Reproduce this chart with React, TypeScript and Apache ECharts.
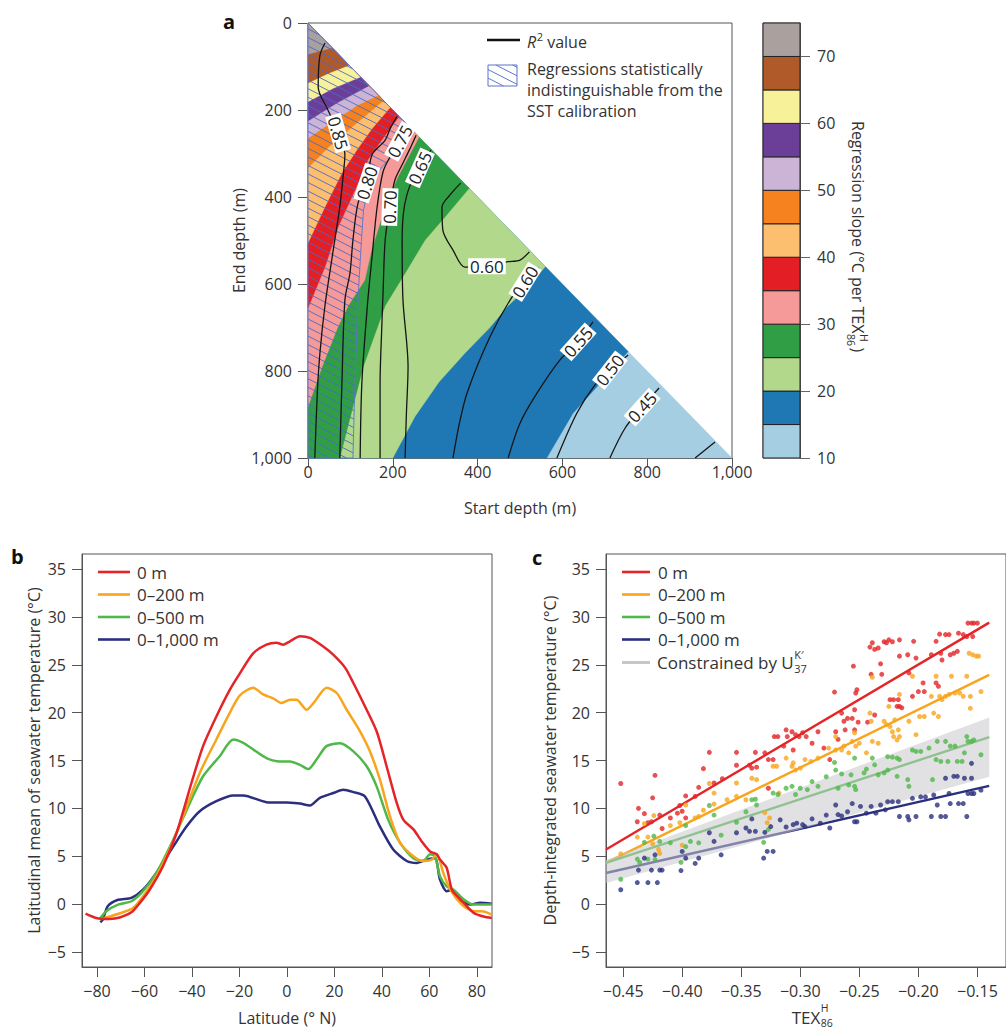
import React, { useEffect, useRef } from 'react';
import * as echarts from 'echarts';

const FONT = "'Open Sans', 'Noto Sans', sans-serif";
const INK = '#333';
const AXIS = '#555';

// ---------------- Panel a: regression slope map ----------------
const depthTicks = [0, 200, 400, 600, 800, 1000];
const slopeLevels = [10, 15, 20, 25, 30, 35, 40, 45, 50, 55, 60, 65, 70, 75];
const slopeTicks = [10, 20, 30, 40, 50, 60, 70];
const slopeColors = ['#a6cee3', '#1f78b4', '#b2d98b', '#2f9e44', '#f59a98', '#e31e25', '#fcbe6f', '#f5821f', '#cbb4d6', '#6b3f98', '#f7f29a', '#b05a2a', '#aaa19f'];

// boundary of each slope level: [start depth, end depth], from the left/bottom edge to the diagonal
const boundary15 = [[563, 1000], [625, 897], [681, 837], [755, 755]];
const boundary20 = [[200, 1000], [252, 905], [309, 825], [370, 759], [429, 700], [469, 653], [515, 610], [560, 560]];
const boundary25 = [[75, 1000], [130, 791], [182, 650], [229, 575], [276, 499], [323, 446], [380, 380]];
const boundary30 = [[0, 883], [33, 791], [70, 700], [95, 650], [134, 591], [150, 522], [182, 423], [212, 354], [262, 262]];
const boundary35 = [[0, 655], [40, 561], [71, 469], [111, 384], [141, 315], [174, 269], [215, 215]];
const boundary40 = [[0, 506], [40, 423], [80, 345], [118, 288], [151, 243], [194, 194]];
const boundary45 = [[0, 333], [50, 284], [105, 238], [153, 199], [178, 178]];
const boundary50 = [[0, 265], [60, 225], [115, 190], [166, 166]];
const boundary55 = [[0, 225], [70, 183], [144, 144]];
const boundary60 = [[0, 181], [60, 150], [124, 124]];
const boundary65 = [[0, 138], [50, 115], [97, 97]];
const boundary70 = [[0, 72], [57, 57]];
const slopeBoundaries = [boundary15, boundary20, boundary25, boundary30, boundary35, boundary40, boundary45, boundary50, boundary55, boundary60, boundary65, boundary70];

// right edge of the hatched region (indistinguishable from SST calibration)
const hatchEdge = [[106, 1000], [110, 850], [115, 700], [120, 600], [126, 500], [131, 430], [145, 370], [175, 330], [205, 300], [225, 270], [236, 236]];

// R^2 contours
const r2c85 = [[40, 46], [28, 75], [24, 147], [47, 200], [71, 253], [87, 303], [82, 360], [75, 423], [57, 538], [40, 650], [28, 760], [22, 850], [16, 1000]];
const r2c80 = [[210, 215], [195, 240], [182, 269], [151, 303], [139, 368], [118, 414], [106, 499], [99, 575], [87, 637], [80, 828], [75, 1000]];
const r2c75 = [[238, 242], [217, 272], [195, 305], [177, 342], [163, 423], [151, 538], [140, 650], [127, 828], [123, 1000]];
const r2c70 = [[255, 258], [240, 290], [222, 326], [205, 361], [193, 423], [182, 499], [177, 620], [174, 700], [170, 828], [170, 1000]];
const r2c65 = [[290, 292], [264, 333], [240, 375], [226, 430], [222, 499], [224, 637], [236, 791], [232, 900], [229, 1000]];
const r2c60a = [[360, 368], [335, 395], [316, 423], [318, 476], [342, 522], [370, 561], [422, 559], [469, 549], [500, 545], [522, 526]];
const r2c60b = [[545, 563], [512, 595], [481, 630], [429, 722], [375, 851], [355, 930], [342, 1000]];
const r2c55 = [[672, 687], [637, 733], [594, 775], [540, 851], [500, 920], [472, 1000]];
const r2c50 = [[755, 763], [712, 798], [677, 832], [634, 897], [587, 1000]];
const r2c45 = [[828, 839], [788, 883], [748, 931], [712, 1000]];
const r2c40 = [[960, 963], [913, 1000]];
const r2Contours = [r2c85, r2c80, r2c75, r2c70, r2c65, r2c60a, r2c60b, r2c55, r2c50, r2c45, r2c40];
const r2LabelText = ['0.85', '0.80', '0.75', '0.70', '0.65', '0.60', '0.60', '0.55', '0.50', '0.45'];
const r2LabelPos = [[71, 253], [139, 368], [217, 272], [193, 423], [264, 333], [422, 559], [512, 595], [637, 733], [712, 798], [788, 883]];
const r2LabelAngle = [-74, 72, 62, 88, 66, 0, 58, 48, 52, 48];

// ---------------- Panel b: latitudinal means ----------------
const latitudeTicks = [-80, -60, -40, -20, 0, 20, 40, 60, 80];
const tempTicks = [-5, 0, 5, 10, 15, 20, 25, 30, 35];
const depthNames = ['0 m', '0–200 m', '0–500 m', '0–1,000 m'];
const depthColors = ['#e42427', '#f8a51d', '#4fb848', '#2b2f7d'];

const latMean0m = [[-84.8, -1.0], [-80.3, -1.45], [-74.7, -1.55], [-70.4, -1.4], [-65.5, -0.86], [-62, 0.1], [-57.8, 1.5], [-52.2, 3.95], [-46.5, 7.4], [-40.2, 12.65], [-35.3, 16.5], [-29.7, 19.6], [-24, 22.4], [-19.8, 24.1], [-14.2, 26.2], [-8.6, 27.1], [-4.4, 27.3], [-1.5, 27.1], [1.3, 27.45], [5.5, 27.97], [9.7, 27.8], [15.3, 26.9], [19.5, 26.05], [24.5, 24.7], [28, 23.1], [32.2, 21], [37.8, 18.05], [42, 14.4], [46.3, 10.55], [49.1, 8.8], [53.3, 7.8], [56.8, 6.55], [60.3, 5.5], [63.1, 5.2], [64.5, 4.65], [67.3, 3.8], [69.5, 1.5], [73, 0.5], [78.6, -0.9], [82.8, -1.3], [86.3, -1.45]];
const latMean200m = [[-78.9, -1.6], [-74.7, -1.3], [-69, -0.85], [-64.8, -0.4], [-60.6, 0.8], [-55, 2.9], [-49.4, 5.7], [-43.7, 9.2], [-36.7, 13.7], [-29.7, 17.2], [-24, 20.0], [-19.8, 21.8], [-14.2, 22.6], [-10, 21.9], [-5.8, 21.5], [-2.2, 21.0], [1.3, 21.35], [4.1, 21.35], [8.3, 20.3], [11.2, 21.0], [16.8, 22.6], [21, 22.05], [25.2, 20.3], [30.8, 18.05], [35, 15.95], [39.2, 13.0], [43.4, 9.2], [47.7, 6.4], [53.3, 5.0], [57.5, 4.5], [61, 4.65], [63.1, 5.2], [65.9, 3.25], [68.8, 1.5], [73.7, -0.05], [78.6, -0.75], [82.1, -0.75], [86.3, -1.1]];
const latMean500m = [[-78.9, -1.6], [-76.1, -0.75], [-71.1, -0.05], [-65.5, 0.3], [-60.6, 1.35], [-55, 3.25], [-47.9, 6.7], [-40.9, 10.55], [-35.3, 13.35], [-28.3, 15.45], [-22.6, 17.2], [-18.4, 16.85], [-14.2, 16.15], [-8.6, 15.25], [-2.9, 14.9], [1.3, 14.9], [5.5, 14.55], [9, 14.1], [12.5, 15.1], [16.7, 16.5], [22.4, 16.8], [28, 15.95], [33.6, 14.4], [37.8, 12.3], [42.7, 8.8], [47.7, 6.4], [53.3, 4.8], [57.5, 4.5], [60.3, 5.2], [62.4, 5.0], [64.5, 2.9], [67.3, 1.85], [70.2, 1.5], [74.4, 0.5], [78.6, -0.05], [86.3, -0.05]];
const latMean1000m = [[-78.6, -1.9], [-77.5, -1.6], [-75.4, -0.2], [-71.1, 0.45], [-65.5, 0.65], [-60.6, 1.5], [-55, 3.25], [-47.9, 6.0], [-42.3, 8.1], [-36.7, 9.7], [-29.7, 10.75], [-22.6, 11.35], [-18.4, 11.35], [-8.6, 10.65], [-0.1, 10.6], [5.5, 10.5], [9.7, 10.3], [13.9, 11.1], [19.5, 11.6], [23.8, 11.95], [28, 11.7], [32.9, 11.25], [39.2, 8.1], [44.8, 5.7], [50.5, 4.5], [54.7, 4.3], [58.9, 4.65], [62.4, 4.8], [64.5, 2.55], [67.3, 1.35], [69.5, 1.5], [73, 0.45], [77.2, -0.05], [81.4, 0.15], [86.3, 0.05]];
const latMeans = [latMean0m, latMean200m, latMean500m, latMean1000m];

// ---------------- Panel c: calibration scatter ----------------
const texTicks = [-0.45, -0.4, -0.35, -0.3, -0.25, -0.2, -0.15];
const tex0m = [[-0.452, 12.6], [-0.437, 10.0], [-0.438, 8.6], [-0.432, 9.45], [-0.429, 8.5], [-0.425, 11.1], [-0.423, 13.45], [-0.426, 8.6], [-0.419, 9.3], [-0.417, 7.9], [-0.41, 9.0], [-0.404, 9.5], [-0.402, 10.3], [-0.4, 9.7], [-0.397, 11.3], [-0.397, 9.0], [-0.389, 11.25], [-0.386, 12.2], [-0.382, 14.15], [-0.377, 15.85], [-0.373, 12.65], [-0.366, 13.1], [-0.354, 15.85], [-0.354, 14.5], [-0.343, 14.5], [-0.341, 14.2], [-0.338, 15.85], [-0.337, 14.3], [-0.33, 15.8], [-0.327, 15.1], [-0.327, 12.1], [-0.323, 15.1], [-0.322, 17.5], [-0.319, 17.5], [-0.314, 16.5], [-0.312, 18.2], [-0.311, 17.5], [-0.307, 18.0], [-0.306, 16.1], [-0.304, 17.7], [-0.301, 17.5], [-0.298, 17.9], [-0.295, 17.5], [-0.29, 16.8], [-0.285, 18.0], [-0.28, 16.3], [-0.275, 15.1], [-0.271, 22.15], [-0.27, 18.0], [-0.268, 17.2], [-0.265, 19.95], [-0.263, 19.1], [-0.26, 19.4], [-0.262, 18.2], [-0.256, 19.4], [-0.254, 18.2], [-0.255, 24.85], [-0.253, 22.05], [-0.252, 22.4], [-0.254, 20.3], [-0.251, 19.0], [-0.243, 19.0], [-0.241, 26.85], [-0.24, 24.0], [-0.237, 19.75], [-0.239, 27.3], [-0.237, 26.6], [-0.234, 26.75], [-0.232, 25.1], [-0.231, 24.0], [-0.229, 27.4], [-0.227, 27.3], [-0.225, 27.6], [-0.224, 21.35], [-0.222, 27.4], [-0.221, 21.35], [-0.218, 20.65], [-0.217, 21.35], [-0.216, 27.6], [-0.216, 25.9], [-0.216, 20.65], [-0.214, 20.5], [-0.209, 26.05], [-0.208, 24.15], [-0.205, 21.7], [-0.204, 27.45], [-0.202, 25.7], [-0.2, 22.2], [-0.196, 23.1], [-0.195, 22.2], [-0.189, 26.05], [-0.185, 27.45], [-0.185, 23.1], [-0.183, 22.75], [-0.182, 28.2], [-0.181, 26.2], [-0.18, 25.5], [-0.177, 28.15], [-0.174, 28.15], [-0.173, 26.05], [-0.17, 26.2], [-0.167, 26.4], [-0.166, 28.3], [-0.162, 28.15], [-0.159, 27.95], [-0.158, 29.35], [-0.155, 29.35], [-0.153, 29.35], [-0.15, 29.35], [-0.154, 27.95]];
const tex200m = [[-0.452, 5.25], [-0.438, 7.0], [-0.432, 8.4], [-0.429, 7.0], [-0.424, 9.25], [-0.425, 6.3], [-0.42, 5.7], [-0.419, 5.3], [-0.41, 8.2], [-0.402, 8.5], [-0.4, 6.15], [-0.397, 10.35], [-0.389, 9.0], [-0.386, 9.15], [-0.382, 9.8], [-0.377, 12.6], [-0.373, 11.6], [-0.373, 10.45], [-0.362, 10.9], [-0.354, 12.65], [-0.354, 11.25], [-0.346, 10.9], [-0.341, 13.15], [-0.337, 13.0], [-0.33, 9.55], [-0.328, 8.5], [-0.326, 9.0], [-0.323, 14.4], [-0.32, 14.4], [-0.318, 11.6], [-0.312, 15.25], [-0.307, 14.4], [-0.306, 14.75], [-0.304, 14.0], [-0.3, 14.2], [-0.296, 15.1], [-0.291, 14.9], [-0.285, 15.25], [-0.276, 16.3], [-0.27, 17.5], [-0.27, 16.1], [-0.265, 16.1], [-0.263, 16.5], [-0.259, 15.8], [-0.256, 17.0], [-0.254, 17.9], [-0.253, 16.5], [-0.25, 16.8], [-0.244, 15.8], [-0.241, 19.95], [-0.24, 19.1], [-0.239, 23.7], [-0.239, 17.0], [-0.234, 16.8], [-0.229, 19.1], [-0.227, 18.75], [-0.225, 20.65], [-0.224, 18.55], [-0.222, 18.0], [-0.221, 17.5], [-0.22, 19.25], [-0.218, 17.15], [-0.217, 18.2], [-0.216, 21.9], [-0.216, 17.5], [-0.208, 19.1], [-0.205, 23.8], [-0.202, 17.7], [-0.199, 19.6], [-0.195, 19.6], [-0.189, 21.7], [-0.187, 19.95], [-0.185, 23.8], [-0.183, 19.6], [-0.182, 21.7], [-0.18, 21.35], [-0.177, 21.7], [-0.174, 21.9], [-0.172, 23.8], [-0.169, 22.05], [-0.165, 22.05], [-0.162, 21.7], [-0.159, 23.8], [-0.157, 26.2], [-0.156, 20.45], [-0.154, 26.05], [-0.151, 25.9], [-0.149, 25.9], [-0.156, 21.7], [-0.147, 22.2]];
const tex500m = [[-0.452, 2.6], [-0.438, 4.7], [-0.436, 4.35], [-0.432, 6.45], [-0.429, 4.7], [-0.424, 7.1], [-0.423, 4.65], [-0.419, 6.55], [-0.41, 6.4], [-0.401, 4.35], [-0.397, 8.2], [-0.397, 6.0], [-0.393, 6.55], [-0.386, 6.4], [-0.377, 10.3], [-0.373, 9.3], [-0.367, 7.2], [-0.354, 8.55], [-0.346, 9.65], [-0.341, 10.9], [-0.338, 10.95], [-0.337, 10.35], [-0.331, 6.45], [-0.327, 7.8], [-0.323, 11.6], [-0.319, 11.45], [-0.312, 12.1], [-0.307, 12.3], [-0.304, 11.45], [-0.3, 12.1], [-0.294, 11.95], [-0.29, 12.8], [-0.285, 12.3], [-0.278, 13.3], [-0.271, 14.8], [-0.27, 14.0], [-0.268, 12.1], [-0.265, 13.6], [-0.259, 12.45], [-0.257, 13.5], [-0.254, 15.25], [-0.254, 12.3], [-0.253, 11.95], [-0.246, 13.7], [-0.244, 14.1], [-0.239, 15.25], [-0.237, 14.55], [-0.234, 13.5], [-0.229, 13.7], [-0.226, 14.0], [-0.226, 15.4], [-0.222, 15.35], [-0.218, 15.25], [-0.216, 15.1], [-0.218, 13.35], [-0.209, 13.0], [-0.208, 12.3], [-0.205, 16.1], [-0.202, 15.95], [-0.198, 15.95], [-0.191, 16.3], [-0.188, 13.0], [-0.185, 15.1], [-0.184, 17.0], [-0.181, 14.9], [-0.177, 17.0], [-0.175, 14.9], [-0.173, 16.5], [-0.169, 16.5], [-0.167, 14.9], [-0.163, 14.9], [-0.161, 15.8], [-0.159, 17.5], [-0.158, 17.0], [-0.155, 17.0], [-0.153, 17.15], [-0.147, 15.6]];
const tex1000m = [[-0.452, 1.5], [-0.438, 2.25], [-0.437, 3.55], [-0.432, 4.8], [-0.429, 2.25], [-0.426, 3.55], [-0.423, 5.15], [-0.421, 2.25], [-0.419, 3.55], [-0.417, 3.55], [-0.401, 3.5], [-0.4, 5.5], [-0.397, 4.8], [-0.389, 4.25], [-0.386, 4.8], [-0.377, 7.45], [-0.373, 6.55], [-0.367, 5.15], [-0.354, 7.45], [-0.346, 7.95], [-0.343, 7.6], [-0.341, 8.9], [-0.338, 7.6], [-0.331, 4.8], [-0.328, 5.5], [-0.323, 5.5], [-0.33, 7.5], [-0.325, 8.1], [-0.317, 8.8], [-0.312, 8.05], [-0.306, 8.3], [-0.303, 8.45], [-0.298, 8.3], [-0.296, 8.1], [-0.29, 8.9], [-0.283, 8.45], [-0.278, 9.3], [-0.275, 7.95], [-0.27, 10.35], [-0.268, 9.35], [-0.265, 9.2], [-0.26, 9.65], [-0.256, 10.5], [-0.254, 8.6], [-0.252, 8.6], [-0.249, 10.2], [-0.244, 9.5], [-0.24, 10.2], [-0.236, 9.5], [-0.232, 10.35], [-0.228, 9.85], [-0.226, 10.7], [-0.222, 10.7], [-0.217, 10.7], [-0.216, 9.15], [-0.209, 9.15], [-0.208, 8.8], [-0.205, 11.05], [-0.202, 9.15], [-0.198, 11.2], [-0.194, 11.2], [-0.189, 9.15], [-0.187, 11.4], [-0.184, 10.35], [-0.181, 9.15], [-0.177, 9.15], [-0.177, 13.15], [-0.174, 11.55], [-0.173, 10.5], [-0.17, 13.35], [-0.167, 13.35], [-0.166, 10.5], [-0.162, 10.5], [-0.161, 13.15], [-0.159, 9.15], [-0.158, 11.55], [-0.155, 13.15], [-0.155, 11.55], [-0.153, 11.55], [-0.155, 14.7], [-0.147, 11.9]];
const texScatter = [tex0m, tex200m, tex500m, tex1000m];
const fit0m = [[-0.4645, 5.7], [-0.14, 29.4]];
const fit200m = [[-0.4645, 4.3], [-0.14, 23.95]];
const fit500m = [[-0.4645, 4.3], [-0.14, 17.45]];
const fit1000m = [[-0.4645, 3.25], [-0.14, 12.35]];
const texFits = [fit0m, fit200m, fit500m, fit1000m];
const uk37Upper = [[-0.4645, 4.6], [-0.14, 19.5]];
const uk37Lower = [[-0.4645, 2.2], [-0.14, 13.3]];
const uk37Color = '#c6c7ca';

// ---------- helpers (geometry of the hatching, text measuring) ----------
function hatchSegments(poly: number[][], angleDeg: number, spacing: number) {
  const a = (angleDeg * Math.PI) / 180;
  const d = [Math.cos(a), Math.sin(a)];
  const n = [-d[1], d[0]];
  const proj = poly.map((p) => p[0] * n[0] + p[1] * n[1]);
  const cmin = Math.min(...proj);
  const cmax = Math.max(...proj);
  const segs: number[][][] = [];
  for (let c = Math.ceil(cmin / spacing) * spacing; c <= cmax; c += spacing) {
    const pts: number[][] = [];
    for (let i = 0; i < poly.length; i++) {
      const j = (i + 1) % poly.length;
      const da = proj[i] - c;
      const db = proj[j] - c;
      if ((da < 0) !== (db < 0)) {
        const t = da / (da - db);
        pts.push([poly[i][0] + t * (poly[j][0] - poly[i][0]), poly[i][1] + t * (poly[j][1] - poly[i][1])]);
      }
    }
    pts.sort((p, q) => p[0] * d[0] + p[1] * d[1] - (q[0] * d[0] + q[1] * d[1]));
    for (let k = 0; k + 1 < pts.length; k += 2) segs.push([pts[k], pts[k + 1]]);
  }
  return segs;
}

let measureCtx: CanvasRenderingContext2D | null = null;
function textWidth(text: string, size: number, style = '') {
  if (!measureCtx) measureCtx = document.createElement('canvas').getContext('2d');
  measureCtx!.font = `${style} ${size}px 'Open Sans'`;
  return measureCtx!.measureText(text).width;
}

const HATCH = '#4d69c6';

function hatchLinesEls(poly: number[][]) {
  return hatchSegments(poly, 27, 7.6).map((s) => ({
    type: 'line',
    shape: { x1: s[0][0], y1: s[0][1], x2: s[1][0], y2: s[1][1] },
    style: { stroke: HATCH, lineWidth: 0.9 },
    silent: true,
  }));
}

function txt(x: number, y: number, text: string, size: number, extra: any = {}) {
  return {
    type: 'text',
    x,
    y,
    silent: true,
    style: { text, fontSize: size, fontFamily: FONT, fill: INK, align: 'left', verticalAlign: 'middle', ...extra },
  };
}

function buildGraphics() {
  const g: any[] = [];
  // panel letters
  g.push(txt(223, 21, 'a', 20, { fontWeight: 'bold', fill: '#111' }));
  g.push(txt(11, 556, 'b', 20, { fontWeight: 'bold', fill: '#111' }));
  g.push(txt(532, 557, 'c', 20, { fontWeight: 'bold', fill: '#111' }));

  // panel a legend
  g.push({ type: 'line', shape: { x1: 487, y1: 40, x2: 520, y2: 40 }, style: { stroke: '#111', lineWidth: 2.5 } });
  const wR = textWidth('R', 16, 'italic');
  g.push(txt(527, 42, 'R', 16, { fontStyle: 'italic' }));
  g.push(txt(527 + wR + 0.5, 36, '2', 11));
  g.push(txt(527 + wR + 11, 42, 'value', 16));
  const sw = [[488, 65], [517, 65], [517, 86], [488, 86]];
  g.push(...hatchLinesEls(sw));
  g.push({ type: 'rect', shape: { x: 488, y: 65, width: 29, height: 21 }, style: { fill: 'none', stroke: '#5b74c9', lineWidth: 1 } });
  g.push(txt(527, 69, 'Regressions statistically', 16));
  g.push(txt(527, 90, 'indistinguishable from the', 16));
  g.push(txt(527, 111, 'SST calibration', 16));

  // colour bar title (rotated)
  const t1 = 'Regression slope (°C per TEX';
  const w1 = textWidth(t1, 16);
  g.push({
    type: 'group',
    x: 858,
    y: 121,
    rotation: -Math.PI / 2,
    children: [
      txt(0, 0, t1, 16),
      txt(w1 + 0.5, -6, 'H', 10.5),
      txt(w1 + 0.5, 7, '86', 10.5),
      txt(w1 + 14, 0, ')', 16),
    ],
  });

  // panel b legend
  const legY = [572, 594.5, 617, 639.5, 662.5];
  depthNames.forEach((name, i) => {
    g.push({ type: 'line', shape: { x1: 98, y1: legY[i], x2: 130, y2: legY[i] }, style: { stroke: depthColors[i], lineWidth: 2.6 } });
    g.push(txt(137, legY[i], name, 17));
  });
  // panel c legend
  depthNames.forEach((name, i) => {
    g.push({ type: 'line', shape: { x1: 622, y1: legY[i], x2: 650, y2: legY[i] }, style: { stroke: depthColors[i], lineWidth: 2.6 } });
    g.push(txt(658, legY[i], name, 17));
  });
  g.push({ type: 'line', shape: { x1: 622, y1: legY[4], x2: 650, y2: legY[4] }, style: { stroke: uk37Color, lineWidth: 3 } });
  const tU = 'Constrained by U';
  const wU = textWidth(tU, 17);
  g.push(txt(657, legY[4], tU, 17));
  g.push(txt(657 + wU + 0.5, legY[4] - 8, 'K′', 11));
  g.push(txt(657 + wU + 0.5, legY[4] + 6, '37', 11));

  // panel c x-axis name TEX^H_86
  const wT = textWidth('TEX', 17);
  const xT = 806 - wT / 2;
  g.push(txt(xT, 1017, 'TEX', 17));
  g.push(txt(xT + wT + 0.5, 1008, 'H', 10.5));
  g.push(txt(xT + wT + 0.5, 1023, '86', 10.5));
  return g;
}

const minusFmt = (v: number) => (v < 0 ? '−' + Math.abs(v) : String(v));
const texFmt = (v: number) => (v < 0 ? '−' : '') + Math.abs(v).toFixed(2);
const thousandsFmt = (v: number) => v.toLocaleString('en-US');

const labelStyle = { fontSize: 16, color: INK, fontFamily: FONT };
const nameStyle = { fontSize: 16, color: INK, fontFamily: FONT };
const lineAxis = { show: true, onZero: false, lineStyle: { color: AXIS, width: 1 } };

export default function App() {
  const ref = useRef<HTMLDivElement>(null);
  useEffect(() => {
    const chart = echarts.init(ref.current!, null, { renderer: 'svg' });

    const bandSeries = {
      type: 'custom',
      xAxisIndex: 0,
      yAxisIndex: 0,
      z: 1,
      silent: true,
      data: slopeColors.map((_, i) => [i, 1000]),
      renderItem: (params: any, api: any) => {
        const i = params.dataIndex;
        let pts: number[][];
        if (i === 0) pts = [[0, 0], [1000, 1000], [0, 1000]];
        else {
          const b = slopeBoundaries[i - 1];
          pts = [...b, [0, 0]];
          if (b[0][1] === 1000 && b[0][0] > 0) pts.push([0, 1000]);
        }
        return {
          type: 'polygon',
          shape: { points: pts.map((p) => api.coord(p)) },
          style: { fill: slopeColors[i], stroke: slopeColors[i], lineWidth: 0.4 },
        };
      },
    };

    const hatchSeries = {
      type: 'custom',
      xAxisIndex: 0,
      yAxisIndex: 0,
      z: 2,
      silent: true,
      data: [[0, 1000]],
      renderItem: (_p: any, api: any) => {
        const poly = [...hatchEdge, [0, 0], [0, 1000]].map((p) => api.coord(p));
        return {
          type: 'group',
          children: [
            ...hatchLinesEls(poly),
            { type: 'polygon', shape: { points: poly }, style: { fill: 'none', stroke: '#5b74c9', lineWidth: 0.9 } },
          ],
        };
      },
    };

    const contourSeries = r2Contours.map((c) => ({
      type: 'line',
      xAxisIndex: 0,
      yAxisIndex: 0,
      z: 3,
      silent: true,
      data: c,
      smooth: 0.3,
      symbol: 'none',
      lineStyle: { color: '#151515', width: 1.3 },
    }));

    const contourLabelSeries = {
      type: 'custom',
      xAxisIndex: 0,
      yAxisIndex: 0,
      z: 4,
      silent: true,
      data: r2LabelPos,
      renderItem: (params: any, api: any) => {
        const i = params.dataIndex;
        const p = api.coord(r2LabelPos[i]);
        return {
          type: 'text',
          x: p[0],
          y: p[1],
          rotation: (r2LabelAngle[i] * Math.PI) / 180,
          style: {
            text: r2LabelText[i],
            fontSize: 17,
            fontFamily: FONT,
            fill: '#222',
            align: 'center',
            verticalAlign: 'middle',
            backgroundColor: '#fff',
            padding: [0, 2, -1, 2],
          },
        };
      },
    };

    const colorbarSeries = {
      type: 'custom',
      xAxisIndex: 1,
      yAxisIndex: 1,
      silent: true,
      data: slopeColors.map((_, i) => [0.5, slopeLevels[i]]),
      renderItem: (params: any, api: any) => {
        const i = params.dataIndex;
        const p1 = api.coord([0, slopeLevels[i + 1]]);
        const p2 = api.coord([1, slopeLevels[i]]);
        return {
          type: 'rect',
          shape: { x: p1[0], y: p1[1], width: p2[0] - p1[0], height: p2[1] - p1[1] },
          style: { fill: slopeColors[i], stroke: '#222', lineWidth: 1 },
        };
      },
    };

    const bLines = latMeans.map((d, i) => ({
      type: 'line',
      name: depthNames[i],
      xAxisIndex: 2,
      yAxisIndex: 2,
      data: d,
      smooth: 0.25,
      symbol: 'none',
      silent: true,
      z: 2 + (3 - i),
      lineStyle: { color: depthColors[i], width: 2.5 },
    }));

    const cFits = texFits.map((d, i) => ({
      type: 'line',
      xAxisIndex: 3,
      yAxisIndex: 3,
      data: d,
      symbol: 'none',
      silent: true,
      z: 2,
      lineStyle: { color: depthColors[i], width: 2.4 },
    }));

    const uk37Series = {
      type: 'custom',
      xAxisIndex: 3,
      yAxisIndex: 3,
      z: 3,
      clip: true,
      silent: true,
      data: [uk37Upper[0]],
      renderItem: (_p: any, api: any) => {
        const pts = [...uk37Upper, ...uk37Lower.slice().reverse()].map((p) => api.coord(p));
        return { type: 'polygon', shape: { points: pts }, style: { fill: 'rgba(200,201,205,0.55)' } };
      },
    };

    const cScatter = texScatter.map((d, i) => ({
      type: 'scatter',
      xAxisIndex: 3,
      yAxisIndex: 3,
      data: d,
      symbolSize: 5,
      silent: true,
      z: 4,
      itemStyle: { color: depthColors[i] },
    }));

    const option: any = {
      animation: false,
      backgroundColor: '#fff',
      textStyle: { fontFamily: FONT },
      grid: [
        { left: 308, top: 23, width: 424, height: 435, show: true, borderColor: AXIS, borderWidth: 1 },
        { left: 763, top: 23, width: 37, height: 435, show: true, borderColor: '#666', borderWidth: 1 },
        { left: 82, top: 554, width: 410, height: 413, show: true, borderColor: AXIS, borderWidth: 1 },
        { left: 606, top: 554, width: 420, height: 413, show: true, borderColor: AXIS, borderWidth: 1 },
      ],
      xAxis: [
        {
          gridIndex: 0, type: 'value', min: 0, max: 1000, interval: 200,
          axisLine: lineAxis, axisTick: { show: true, length: 9, lineStyle: { color: AXIS } },
          axisLabel: { ...labelStyle, margin: 6, formatter: thousandsFmt }, splitLine: { show: false },
          name: 'Start depth (m)', nameLocation: 'middle', nameGap: 42, nameTextStyle: nameStyle,
        },
        { gridIndex: 1, type: 'value', min: 0, max: 1, show: false },
        {
          gridIndex: 2, type: 'value', min: -86.3, max: 86.4,
          axisLine: lineAxis, axisTick: { show: true, length: 10, lineStyle: { color: AXIS }, customValues: latitudeTicks },
          axisLabel: { ...labelStyle, margin: 16, formatter: minusFmt, customValues: latitudeTicks }, splitLine: { show: false },
          name: 'Latitude (° N)', nameLocation: 'middle', nameGap: 43, nameTextStyle: nameStyle,
        },
        {
          gridIndex: 3, type: 'value', min: -0.4645, max: -0.4645 + 420 / 1240,
          axisLine: lineAxis, axisTick: { show: true, length: 10, lineStyle: { color: AXIS }, customValues: texTicks },
          axisLabel: { ...labelStyle, margin: 16, formatter: texFmt, customValues: texTicks }, splitLine: { show: false },
        },
      ],
      yAxis: [
        {
          gridIndex: 0, type: 'value', min: 0, max: 1000, interval: 200, inverse: true,
          axisLine: lineAxis, axisTick: { show: true, length: 10, lineStyle: { color: AXIS } },
          axisLabel: { ...labelStyle, margin: 16, formatter: thousandsFmt }, splitLine: { show: false },
          name: 'End depth (m)', nameLocation: 'middle', nameGap: 55, nameTextStyle: nameStyle,
        },
        {
          gridIndex: 1, type: 'value', min: 10, max: 75, position: 'right',
          axisLine: { show: true, onZero: false, lineStyle: { color: '#666' } },
          axisTick: { show: true, length: 10, lineStyle: { color: '#666' }, customValues: slopeTicks },
          axisLabel: { ...labelStyle, margin: 17, customValues: slopeTicks }, splitLine: { show: false },
        },
        {
          gridIndex: 2, type: 'value', min: -6.57, max: 36.57,
          axisLine: lineAxis, axisTick: { show: true, length: 10, lineStyle: { color: AXIS }, customValues: tempTicks },
          axisLabel: { ...labelStyle, margin: 16, formatter: minusFmt, customValues: tempTicks }, splitLine: { show: false },
          name: 'Latitudinal mean of seawater temperature (°C)', nameLocation: 'middle', nameGap: 40, nameTextStyle: nameStyle,
        },
        {
          gridIndex: 3, type: 'value', min: -6.57, max: 36.57,
          axisLine: lineAxis, axisTick: { show: true, length: 10, lineStyle: { color: AXIS }, customValues: tempTicks },
          axisLabel: { ...labelStyle, margin: 16, formatter: minusFmt, customValues: tempTicks }, splitLine: { show: false },
          name: 'Depth-integrated seawater temperature (°C)', nameLocation: 'middle', nameGap: 48, nameTextStyle: nameStyle,
        },
      ],
      graphic: buildGraphics(),
      series: [
        bandSeries, hatchSeries, ...contourSeries, contourLabelSeries, colorbarSeries,
        ...bLines, ...cFits, uk37Series, ...cScatter,
      ],
    };
    chart.setOption(option);
    return () => chart.dispose();
  }, []);
  return <div ref={ref} style={{ position: 'absolute', left: 0, top: 0, width: 1006, height: 1031, background: '#fff', overflow: 'hidden' }} />;
}
